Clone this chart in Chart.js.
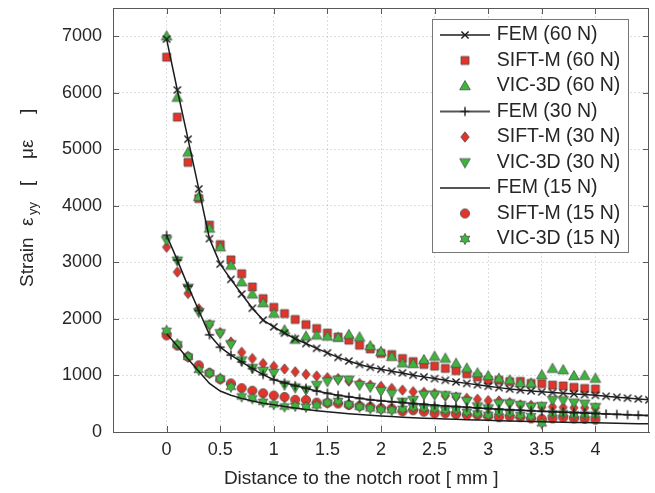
<!DOCTYPE html>
<html><head><meta charset="utf-8">
<script src="https://cdn.jsdelivr.net/npm/chart.js@4.4.1/dist/chart.umd.min.js"></script>
<style>html,body{margin:0;padding:0;background:#fff;overflow:hidden}canvas{display:block}</style>
</head><body>
<canvas id="c" width="655" height="493"></canvas>
<script>
// ---------------- data ----------------
const distMeas = [0,0.1,0.2,0.3,0.4,0.5,0.6,0.7,0.8,0.9,1,1.1,1.2,1.3,1.4,1.5,1.6,1.7,1.8,1.9,2,2.1,2.2,2.3,2.4,2.5,2.6,2.7,2.8,2.9,3,3.1,3.2,3.3,3.4,3.5,3.6,3.7,3.8,3.9,4];
const distFem = [0,0.1,0.2,0.3,0.4,0.5,0.6,0.7,0.8,0.9,1,1.1,1.2,1.3,1.4,1.5,1.6,1.7,1.8,1.9,2,2.1,2.2,2.3,2.4,2.5,2.6,2.7,2.8,2.9,3,3.1,3.2,3.3,3.4,3.5,3.6,3.7,3.8,3.9,4,4.1,4.2,4.3,4.4,4.5];

const fem60 = [6950,6050,5180,4300,3420,2970,2700,2440,2190,1980,1860,1750,1650,1565,1480,1400,1320,1255,1195,1145,1110,1075,1045,1005,975,945,915,885,860,835,810,785,760,742,726,710,698,686,674,662,648,632,615,600,585,570];
const sift60 = [6630,5570,4770,4130,3660,3315,3045,2800,2565,2360,2205,2095,1990,1900,1830,1750,1680,1625,1535,1470,1390,1370,1300,1245,1195,1165,1125,1085,1030,975,920,915,890,895,860,855,830,815,790,770,760];
const vic60 = [7000,5915,4945,4160,3600,3270,2945,2650,2435,2280,2095,1800,1635,1690,1710,1690,1670,1720,1675,1520,1420,1330,1215,1205,1275,1335,1300,1210,1125,1040,990,945,915,865,860,1005,1120,1095,990,995,945];

const fem30 = [3480,3040,2580,2150,1720,1500,1360,1240,1120,1015,925,870,820,775,725,685,650,622,595,570,552,535,520,505,490,475,462,450,438,426,415,404,394,385,376,367,359,351,343,336,328,320,312,305,298,292];
const sift30 = [3270,2830,2450,2180,1900,1760,1590,1410,1300,1210,1160,1115,1065,1020,990,960,945,900,860,830,805,770,740,712,700,680,640,620,595,580,555,550,520,480,470,440,445,435,430,430,425];
const vic30 = [3390,3030,2550,2120,1900,1745,1550,1265,1130,1080,1045,835,785,745,830,895,925,925,830,795,725,680,535,565,660,660,650,623,548,452,417,505,505,476,446,458,564,558,520,500,440];

const fem15 = [1740,1520,1290,1075,860,725,650,595,550,510,480,450,425,400,378,358,340,323,308,295,283,272,262,253,245,237,230,224,218,212,206,200,195,190,186,182,178,174,170,166,162,158,154,150,147,144];
const sift15 = [1710,1530,1330,1180,1045,935,860,775,730,685,645,620,570,565,520,515,505,478,460,446,420,415,365,385,360,330,330,315,300,300,280,262,270,262,241,232,241,255,241,232,220];
const vic15 = [1790,1550,1330,1100,1040,945,800,630,595,535,490,450,460,445,470,520,550,490,446,417,395,385,410,440,430,415,390,395,355,330,305,358,340,300,280,153,330,330,310,310,310];

const seriesLabels = ['FEM (60 N)','SIFT-M (60 N)','VIC-3D (60 N)','FEM (30 N)','SIFT-M (30 N)','VIC-3D (30 N)','FEM (15 N)','SIFT-M (15 N)','VIC-3D (15 N)'];
const xTickValues = [0,0.5,1,1.5,2,2.5,3,3.5,4];
const yTickValues = [0,1000,2000,3000,4000,5000,6000,7000];
const xTitle = 'Distance to the notch root [ mm ]';
const yTitleParts = [
  {t:'Strain', at:0, sub:false},
  {t:'ε', at:61, sub:false},
  {t:'yy', at:72, sub:true},
  {t:'[', at:101, sub:false},
  {t:'με', at:128, sub:false},
  {t:']', at:173, sub:false}
];

// ---------------- styles ----------------
const FONT = "'Liberation Sans', Arial, Helvetica, sans-serif";
const TXT = '#262626';
const AX = '#595959';
const RED = '#e3342a', GREEN = '#3db53d', EDGE = '#4d4d4d', LINE = '#1c1c1c';

function drawMarker(g, kind, x, y) {
  g.save();
  g.lineJoin = 'miter';
  const fillStroke = (fill) => { g.fillStyle = fill; g.fill(); g.strokeStyle = EDGE; g.lineWidth = 0.8; g.stroke(); };
  g.beginPath();
  switch (kind) {
    case 'x':
      g.strokeStyle = LINE; g.lineWidth = 1.4;
      g.moveTo(x-3.6,y-3.6); g.lineTo(x+3.6,y+3.6); g.moveTo(x-3.6,y+3.6); g.lineTo(x+3.6,y-3.6); g.stroke(); break;
    case '+':
      g.strokeStyle = LINE; g.lineWidth = 1.4;
      g.moveTo(x,y-4.5); g.lineTo(x,y+4.5); g.moveTo(x-4.5,y); g.lineTo(x+4.5,y); g.stroke(); break;
    case 'square':
      g.rect(x-4,y-4,8,8); fillStroke(RED); break;
    case 'triUp':
      g.moveTo(x,y-5.5); g.lineTo(x+5.3,y+3.8); g.lineTo(x-5.3,y+3.8); g.closePath(); fillStroke(GREEN); break;
    case 'triDown':
      g.moveTo(x,y+5.5); g.lineTo(x+5.3,y-3.8); g.lineTo(x-5.3,y-3.8); g.closePath(); fillStroke(GREEN); break;
    case 'diamond':
      g.moveTo(x,y-5.2); g.lineTo(x+4.2,y); g.lineTo(x,y+5.2); g.lineTo(x-4.2,y); g.closePath(); fillStroke(RED); break;
    case 'circle':
      g.arc(x,y,4.6,0,Math.PI*2); fillStroke(RED); break;
    case 'star':
      for (let k = 0; k < 12; k++) {
        const r = k % 2 === 0 ? 5.6 : 3.1;
        const a = -Math.PI/2 + k*Math.PI/6;
        const px = x + r*Math.cos(a), py = y + r*Math.sin(a);
        if (k === 0) g.moveTo(px,py); else g.lineTo(px,py);
      }
      g.closePath(); fillStroke(GREEN); break;
  }
  g.restore();
}
function markerImg(kind) {
  const c = document.createElement('canvas'); c.width = 16; c.height = 16;
  drawMarker(c.getContext('2d'), kind, 8, 8); return c;
}
function legendIcon(kind, withLine) {
  const c = document.createElement('canvas'); c.width = 50; c.height = 20;
  const g = c.getContext('2d');
  if (withLine) { g.strokeStyle = LINE; g.lineWidth = 1.5; g.beginPath(); g.moveTo(0,10); g.lineTo(50,10); g.stroke(); }
  if (kind) drawMarker(g, kind, 25, 10);
  return c;
}
const kinds = ['x','square','triUp','+','diamond','triDown',null,'circle','star'];
const legendIcons = kinds.map((k,i) => legendIcon(k, i % 3 === 0));

function pts(xs, ys) { return xs.map((x,i) => ({x: x, y: ys[i]})); }
function lineSet(i, xs, ys) {
  return { label: seriesLabels[i], data: pts(xs, ys), showLine: true, borderColor: LINE, borderWidth: 1.5,
    pointStyle: kinds[i] ? markerImg(kinds[i]) : false, pointRadius: kinds[i] ? 4 : 0, order: 0 };
}
function markSet(i, xs, ys, ord) {
  return { label: seriesLabels[i], data: pts(xs, ys), showLine: false, pointStyle: markerImg(kinds[i]), pointRadius: 5, order: ord };
}
const datasets = [
  lineSet(0, distFem, fem60), markSet(1, distMeas, sift60, 2), markSet(2, distMeas, vic60, 1),
  lineSet(3, distFem, fem30), markSet(4, distMeas, sift30, 2), markSet(5, distMeas, vic30, 1),
  lineSet(6, distFem, fem15), markSet(7, distMeas, sift15, 2), markSet(8, distMeas, vic15, 1)
];

// ---------------- plugins ----------------
const LEG = {x: 432, y: 19, w: 196, h: 233};
const framePlugin = {
  id: 'framePlugin',
  afterLayout(chart) {
    const lg = chart.legend;
    if (!lg) return;
    lg.left = LEG.x + 5; lg.right = LEG.x + LEG.w; lg.top = LEG.y + 0.25; lg.bottom = LEG.y + 1000;
    if (!lg._wrapped) {
      const proto = Object.getPrototypeOf(lg);
      lg.draw = function () {
        const ctx = this.ctx; ctx.save();
        ctx.fillStyle = '#ffffff'; ctx.fillRect(LEG.x, LEG.y, LEG.w, LEG.h);
        ctx.strokeStyle = '#777'; ctx.lineWidth = 1; ctx.strokeRect(LEG.x + 0.5, LEG.y + 0.5, LEG.w, LEG.h);
        ctx.restore();
        proto.draw.call(this);
      };
      lg._wrapped = true;
    }
  },
  afterDraw(chart) {
    const ctx = chart.ctx, a = chart.chartArea;
    const xs = chart.scales.x, ys = chart.scales.y;
    ctx.save();
    ctx.strokeStyle = AX; ctx.lineWidth = 1;
    ctx.beginPath();
    ctx.moveTo(a.left, a.top + 0.5); ctx.lineTo(a.right, a.top + 0.5);
    ctx.moveTo(a.right - 0.5, a.top); ctx.lineTo(a.right - 0.5, a.bottom);
    const T = 6;
    xs.ticks.forEach(t => {
      const p = Math.round(xs.getPixelForValue(t.value)) + 0.5;
      ctx.moveTo(p, a.bottom); ctx.lineTo(p, a.bottom - T);
      ctx.moveTo(p, a.top); ctx.lineTo(p, a.top + T);
    });
    ys.ticks.forEach(t => {
      const p = Math.round(ys.getPixelForValue(t.value)) + 0.5;
      ctx.moveTo(a.left, p); ctx.lineTo(a.left + T, p);
      ctx.moveTo(a.right, p); ctx.lineTo(a.right - T, p);
    });
    ctx.stroke();
    // x axis title (centred as in the reference, slightly left of the plot centre)
    ctx.fillStyle = TXT; ctx.font = '19px ' + FONT;
    ctx.textAlign = 'center'; ctx.textBaseline = 'middle';
    ctx.fillText(xTitle, a.left + (a.right - a.left) * 0.463, 479);
    // y axis title with subscript
    ctx.translate(33, 287); ctx.rotate(-Math.PI/2);
    ctx.textBaseline = 'alphabetic'; ctx.textAlign = 'left';
    yTitleParts.forEach(p => {
      ctx.font = (p.sub ? '13px ' : '19px ') + FONT;
      ctx.fillText(p.t, p.at, p.sub ? 4 : 0);
    });
    ctx.restore();
  }
};

new Chart(document.getElementById('c'), {
  type: 'scatter',
  data: { datasets: datasets },
  options: {
    responsive: false, animation: false, devicePixelRatio: 1,
    layout: { padding: { top: 8, right: 2, left: 0, bottom: 0 } },
    plugins: {
      tooltip: { enabled: false },
      legend: {
        position: 'chartArea', align: 'start',
        labels: {
          usePointStyle: true, pointStyleWidth: 44, padding: 6, color: TXT,
          font: { family: FONT, size: 19.5 },
          generateLabels: (chart) => chart.data.datasets.map((ds, i) => ({
            text: ds.label, pointStyle: legendIcons[i], datasetIndex: i, hidden: false,
            lineWidth: 0, strokeStyle: 'rgba(0,0,0,0)', fillStyle: 'rgba(0,0,0,0)', fontColor: TXT
          }))
        }
      }
    },
    scales: {
      x: {
        type: 'linear', min: -0.5, max: 4.5,
        afterBuildTicks: (s) => { s.ticks = xTickValues.map(v => ({value: v})); },
        afterFit: (s) => { s.height = 61; s.paddingLeft = 0; s.paddingRight = 0; },
        ticks: { color: TXT, font: { family: FONT, size: 18 }, padding: 7, callback: (v) => String(Math.round(v*10)/10) },
        grid: { color: 'rgba(0,0,0,0.13)', drawTicks: false, lineWidth: 1 },
        border: { display: true, color: AX, width: 1, dash: [2, 2] },
        title: { display: false, text: xTitle }
      },
      y: {
        type: 'linear', min: 0, max: 7500,
        afterBuildTicks: (s) => { s.ticks = yTickValues.map(v => ({value: v})); },
        afterFit: (s) => { s.width = 113; s.paddingTop = 0; s.paddingBottom = 0; },
        ticks: { color: TXT, font: { family: FONT, size: 18 }, padding: 11, callback: (v) => String(v) },
        grid: { color: 'rgba(0,0,0,0.13)', drawTicks: false, lineWidth: 1 },
        border: { display: true, color: AX, width: 1, dash: [2, 2] }
      }
    }
  },
  plugins: [framePlugin]
});
</script>
</body></html>
